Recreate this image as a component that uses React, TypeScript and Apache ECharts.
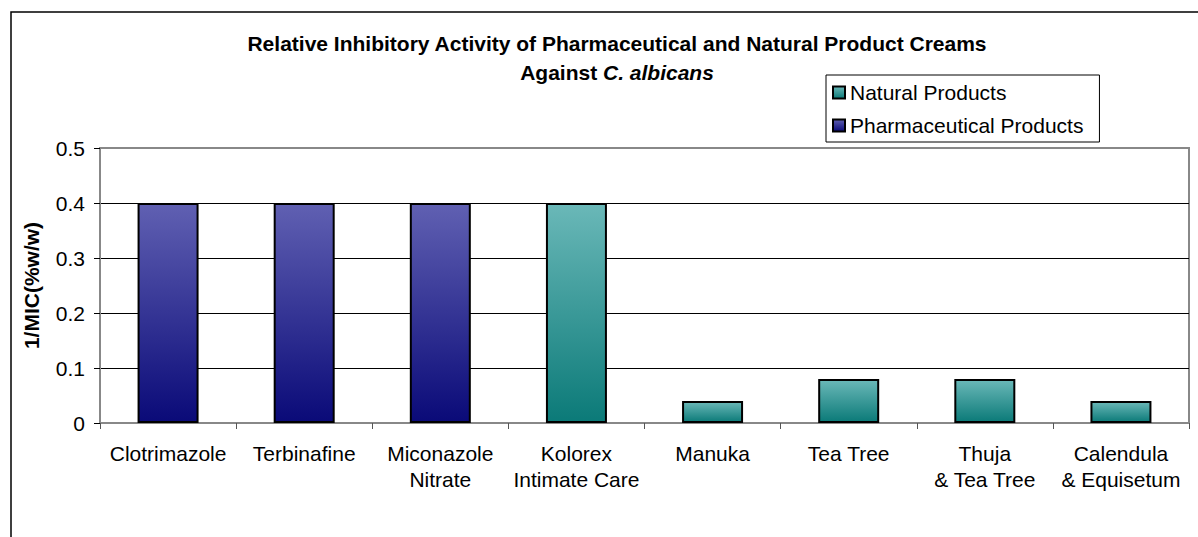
import React, { useEffect, useRef } from "react";
import * as echarts from "echarts";

const categories = [
  "Clotrimazole",
  "Terbinafine",
  "Miconazole\nNitrate",
  "Kolorex\nIntimate Care",
  "Manuka",
  "Tea Tree",
  "Thuja\n& Tea Tree",
  "Calendula\n& Equisetum",
];
const pharmaceutical = [0.4, 0.4, 0.4, null, null, null, null, null];
const natural = [null, null, null, 0.4, 0.04, 0.08, 0.08, 0.04];
const seriesNames = ["Natural Products", "Pharmaceutical Products"];

const FONT = "'Liberation Sans', Arial, sans-serif";

export default function App() {
  const ref = useRef<HTMLDivElement>(null);
  useEffect(() => {
    if (!ref.current) return;
    const chart = echarts.init(ref.current, null, { renderer: "svg" });
    const grad = (top: string, bottom: string) =>
      new echarts.graphic.LinearGradient(0, 0, 0, 1, [
        { offset: 0, color: top },
        { offset: 1, color: bottom },
      ]);
    const pharmaColor = grad("#6060B2", "#0A0A78");
    const naturalColor = grad("#6AB8B8", "#0B7A78");
    chart.setOption({
      animation: false,
      textStyle: { fontFamily: FONT },
      title: {
        text: "Relative Inhibitory Activity of Pharmaceutical and Natural Product Creams\nAgainst {it|C. albicans}",
        left: 612,
        top: 24,
        textAlign: "center",
        textStyle: {
          fontFamily: FONT,
          fontSize: 21,
          fontWeight: "bold",
          color: "#000",
          lineHeight: 29,
          rich: {
            it: { fontFamily: FONT, fontSize: 21, fontWeight: "bold", fontStyle: "italic", color: "#000", lineHeight: 29 },
          },
        },
      },
      legend: {
        orient: "vertical",
        left: 826,
        top: 75,
        padding: [7, 16, 6, 6],
        itemGap: 12,
        itemWidth: 12,
        itemHeight: 12,
        borderColor: "#000",
        borderWidth: 1,
        icon: "rect",
        data: seriesNames,
        textStyle: { fontFamily: FONT, fontSize: 21, color: "#000" },
      },
      graphic: [
        {
          type: "rect",
          shape: { x: 11, y: 12, width: 1300, height: 700 },
          style: { fill: "none", stroke: "#000", lineWidth: 1.5 },
          silent: true,
        },
      ],
      grid: {
        left: 100,
        right: 9,
        top: 148,
        bottom: 114,
        show: true,
        borderColor: "#888",
        borderWidth: 2,
        containLabel: false,
      },
      xAxis: {
        type: "category",
        data: categories,
        axisLine: { show: true, lineStyle: { color: "#888", width: 2 } },
        axisTick: { show: true, length: 6, lineStyle: { color: "#555", width: 1 } },
        axisLabel: {
          fontFamily: FONT,
          fontSize: 21,
          lineHeight: 26,
          color: "#000",
          margin: 17,
          interval: 0,
        },
      },
      yAxis: {
        type: "value",
        min: 0,
        max: 0.5,
        interval: 0.1,
        name: "1/MIC(%w/w)",
        nameLocation: "middle",
        nameGap: 58,
        nameTextStyle: { fontFamily: FONT, fontSize: 21, fontWeight: "bold", color: "#000" },
        axisLine: { show: true, lineStyle: { color: "#888", width: 2 } },
        axisTick: { show: true, length: 6, lineStyle: { color: "#000", width: 1 } },
        axisLabel: {
          fontFamily: FONT,
          fontSize: 21,
          color: "#000",
          margin: 15,
          formatter: (v: number) => String(Math.round(v * 10) / 10),
        },
        splitLine: { show: true, showMaxLine: false, showMinLine: false, lineStyle: { color: "#000", width: 1 } },
      },
      series: [
        {
          name: seriesNames[0],
          type: "bar",
          data: natural,
          barWidth: 61,
          barGap: "-100%",
          itemStyle: { color: naturalColor, borderColor: "#000", borderWidth: 2 },
        },
        {
          name: seriesNames[1],
          type: "bar",
          data: pharmaceutical,
          barWidth: 61,
          barGap: "-100%",
          itemStyle: { color: pharmaColor, borderColor: "#000", borderWidth: 2 },
        },
      ],
    });
    return () => chart.dispose();
  }, []);
  return (
    <div
      ref={ref}
      style={{ position: "fixed", left: 0, top: 0, width: 1198, height: 537, background: "#fff" }}
    />
  );
}
